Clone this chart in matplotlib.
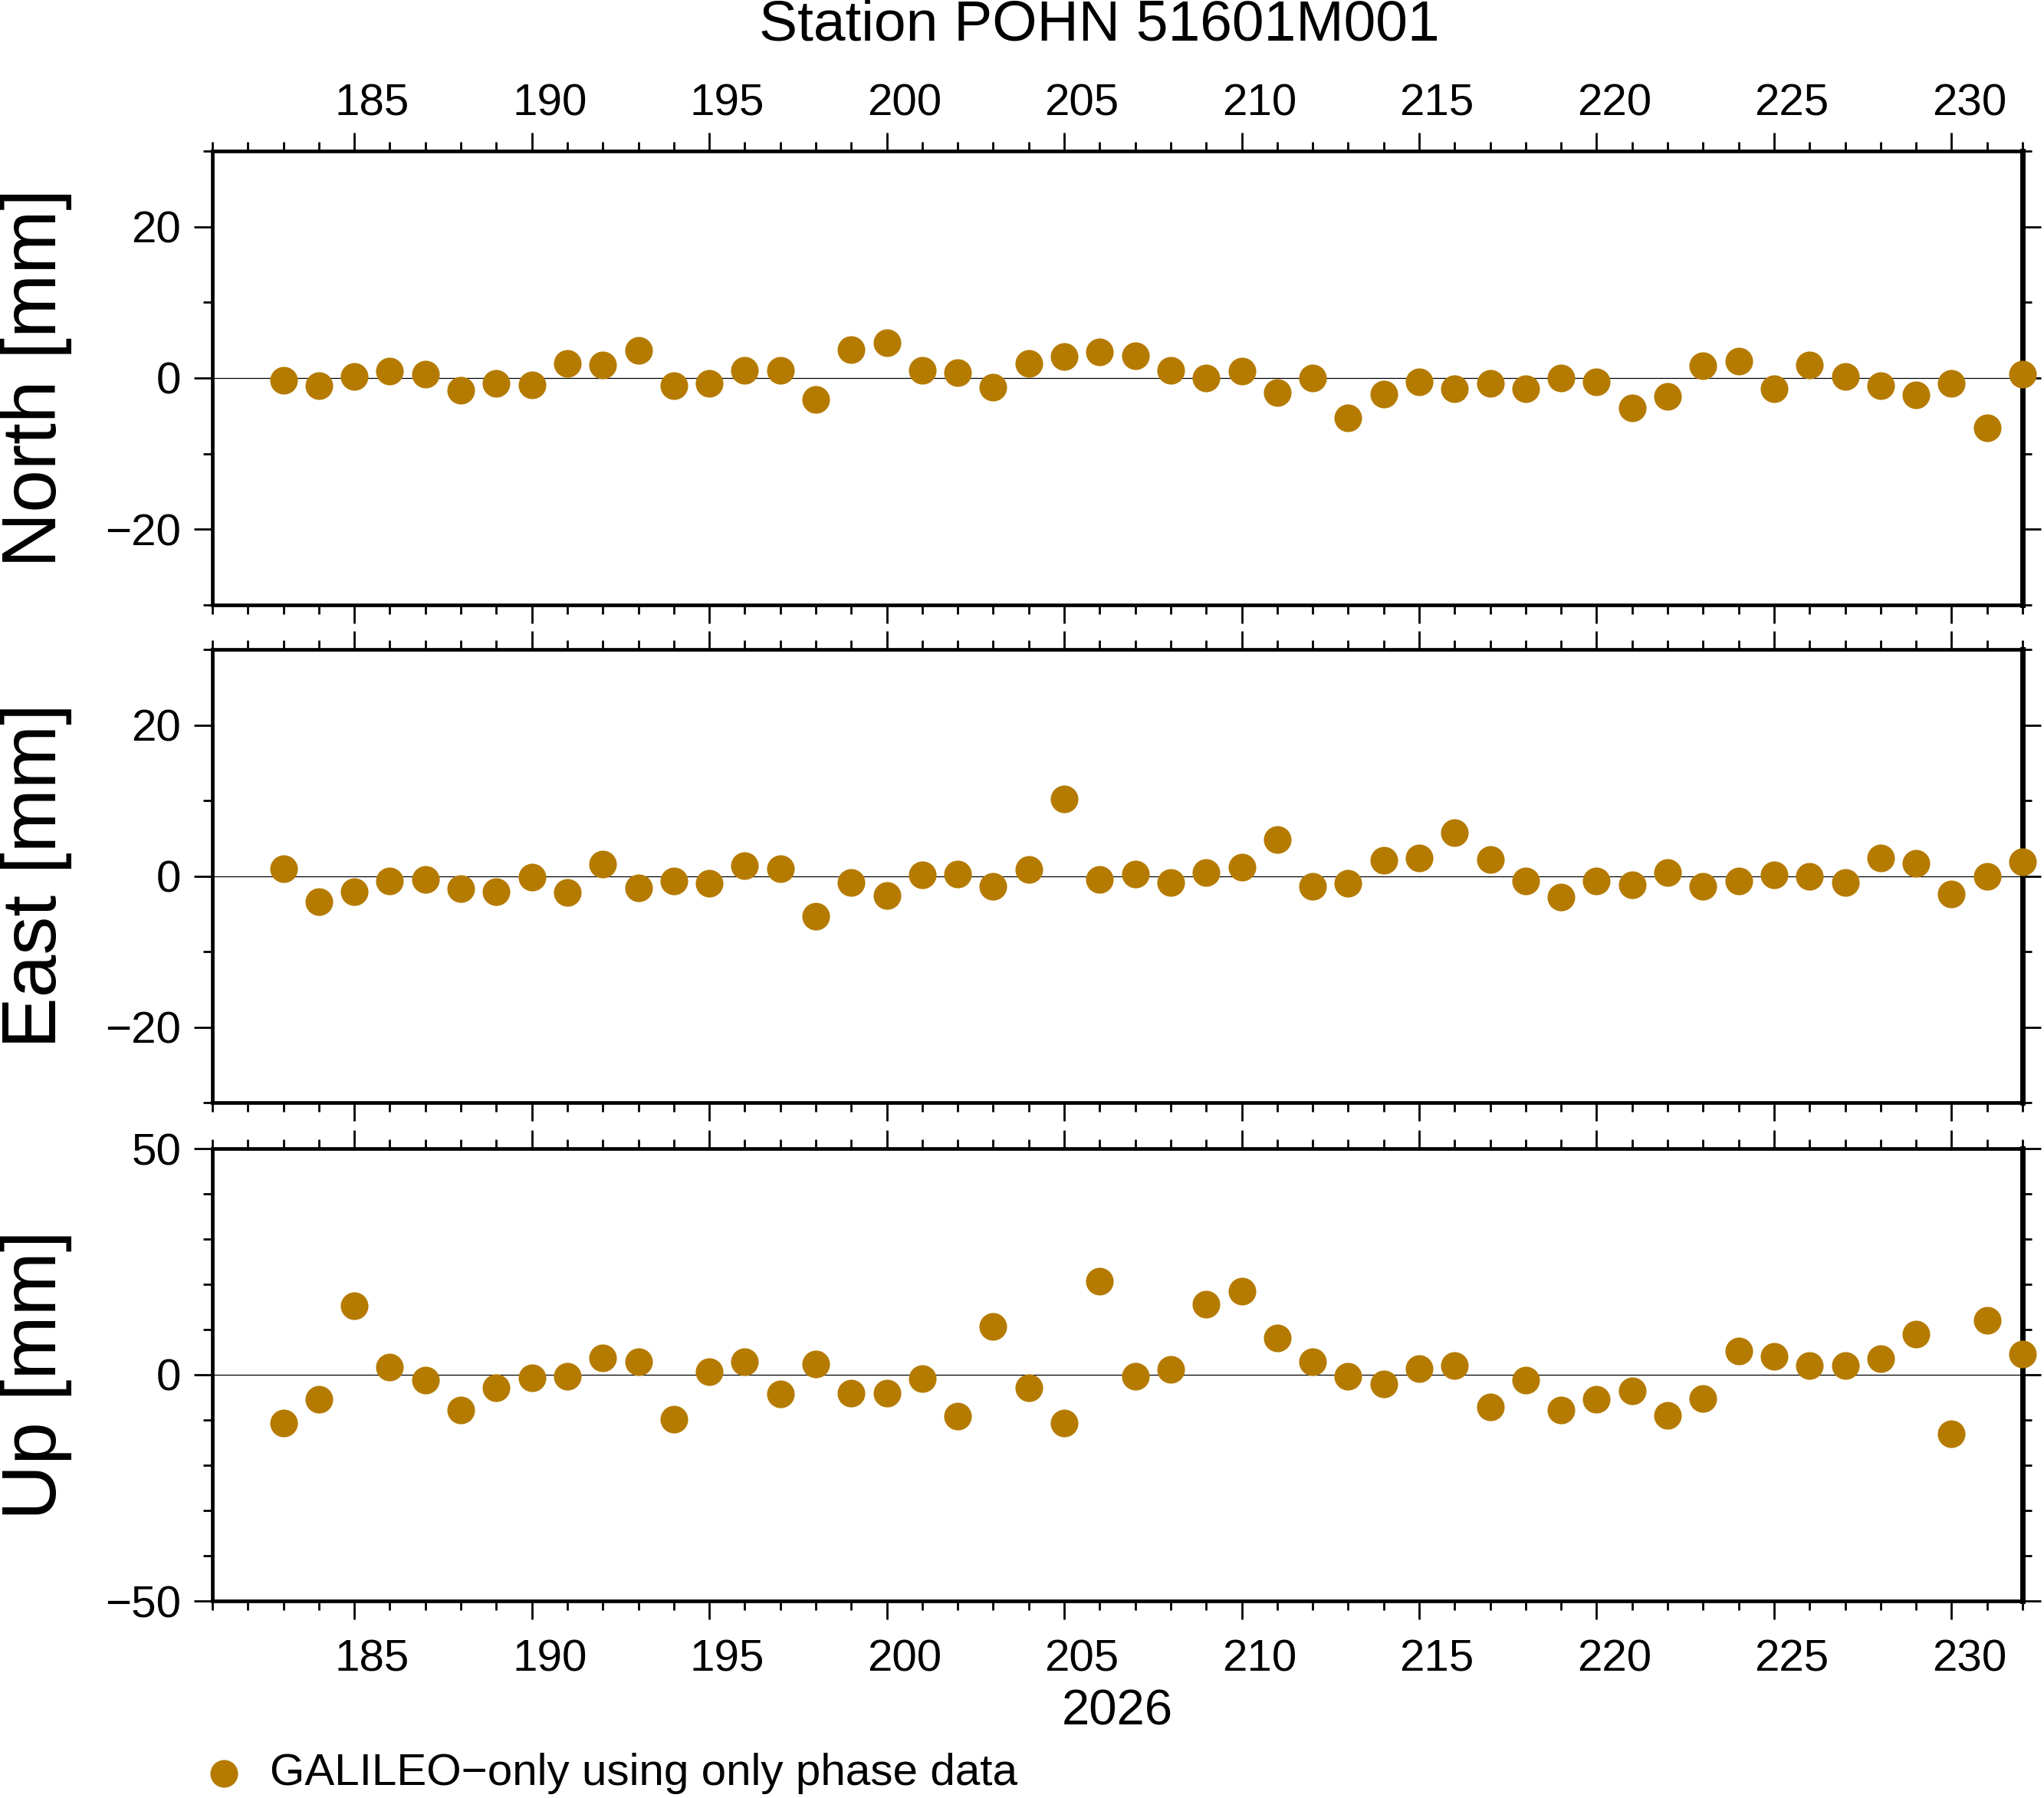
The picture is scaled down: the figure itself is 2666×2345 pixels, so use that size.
import matplotlib
matplotlib.use("Agg")
import matplotlib.pyplot as plt
from matplotlib.ticker import MultipleLocator

plt.rcParams['font.family'] = ['Liberation Sans', 'DejaVu Sans']

days = list(range(183, 233))
north = [-0.3, -1.0, 0.2, 0.9, 0.5, -1.6, -0.7, -0.9, 1.9, 1.7,
         3.6, -1.0, -0.7, 1.0, 1.0, -2.8, 3.8, 4.7, 1.0, 0.7,
         -1.2, 1.9, 2.8, 3.4, 2.9, 1.0, 0.0, 0.9, -1.9, 0.0,
         -5.3, -2.1, -0.5, -1.4, -0.7, -1.4, 0.0, -0.5, -4.0, -2.4,
         1.6, 2.2, -1.4, 1.7, 0.2, -1.0, -2.2, -0.7, -6.6, 0.5]
east = [1.0, -3.4, -2.1, -0.7, -0.5, -1.7, -2.1, -0.2, -2.2, 1.6,
        -1.6, -0.7, -1.0, 1.4, 1.0, -5.3, -0.9, -2.6, 0.2, 0.3,
        -1.4, 0.9, 10.2, -0.5, 0.3, -0.9, 0.5, 1.2, 4.8, -1.4,
        -1.0, 2.1, 2.4, 5.7, 2.2, -0.7, -2.8, -0.7, -1.2, 0.5,
        -1.4, -0.7, 0.2, 0.0, -0.9, 2.4, 1.7, -2.4, 0.0, 1.9]
up = [-10.7, -5.5, 15.3, 1.7, -1.2, -7.8, -2.9, -0.6, -0.3, 3.7,
      2.9, -9.8, 0.6, 2.9, -4.3, 2.3, -4.0, -4.0, -0.9, -9.2,
      10.7, -2.9, -10.7, 20.7, -0.3, 1.2, 15.6, 18.4, 8.1, 2.9,
      -0.3, -2.0, 1.4, 2.0, -7.2, -1.2, -7.8, -5.5, -3.5, -8.9,
      -5.2, 5.2, 4.0, 2.0, 2.0, 3.5, 8.9, -13.0, 12.1, 4.6]

title = "Station POHN 51601M001"
panel_labels = ["North [mm]", "East [mm]", "Up [mm]"]
ylims = [(-30, 30), (-30, 30), (-50, 50)]
ymajor = [20, 20, 50]
yminor = [10, 10, 10]
xtick_labels = [185, 190, 195, 200, 205, 210, 215, 220, 225, 230]
xlabel = "2026"
legend_label = "GALILEO\u2212only using only phase data"
color = "#B57B00"

W, H = 2666, 2345
fig = plt.figure(figsize=(W / 100, H / 100), dpi=100)

left = 277 / W
right = 2638 / W
panels_px = [(197, 789), (847, 1438), (1498, 2088)]

for i, (top, bot) in enumerate(panels_px):
    ax = fig.add_axes([left, 1 - bot / H, right - left, (bot - top) / H])
    vals = [north, east, up][i]
    ax.axhline(0, color='black', lw=0.9, zorder=1)
    ax.plot(days, vals, 'o', color=color, markersize=26, mec='none',
            clip_on=False, zorder=3)
    ax.set_xlim(181, 232)
    ax.set_ylim(*ylims[i])
    ax.xaxis.set_major_locator(MultipleLocator(5))
    ax.xaxis.set_minor_locator(MultipleLocator(1))
    ax.yaxis.set_major_locator(MultipleLocator(ymajor[i]))
    ax.yaxis.set_minor_locator(MultipleLocator(yminor[i]))
    ax.tick_params(which='both', direction='out', top=True, bottom=True,
                   left=True, right=True, width=2.0, labelsize=42)
    ax.tick_params(which='major', length=17.3)
    ax.tick_params(which='minor', length=8.6)
    ax.tick_params(axis='y', pad=12, labelright=False)
    ax.tick_params(axis='x', labelbottom=False, labeltop=False)
    for s in ax.spines.values():
        s.set_linewidth(3.4)
    ax.spines['right'].set_linewidth(5)
    # GMT-style interval annotations centred on each day
    if i == 0:
        for d in xtick_labels:
            ax.annotate(str(d), xy=(d + 0.5, 1), xycoords=('data', 'axes fraction'),
                        xytext=(0, 33.5), textcoords='offset points',
                        ha='center', va='baseline', fontsize=42)
    if i == 2:
        for d in xtick_labels:
            ax.annotate(str(d), xy=(d + 0.5, 0), xycoords=('data', 'axes fraction'),
                        xytext=(0, -66), textcoords='offset points',
                        ha='center', va='baseline', fontsize=42)
    center_y = 1 - (top + bot) / 2 / H
    fig.text(0.0175, center_y, panel_labels[i], rotation=90, fontsize=72,
             ha='center', va='center')

fig.text(0.538, 0.986, title, fontsize=54, ha='center', va='center')
fig.text((left + right) / 2, 0.048, xlabel, fontsize=47, ha='center', va='center')

# legend
fig.lines.append(matplotlib.lines.Line2D([0.1097], [0.0135], marker='o',
                 color=color, markersize=26, mec='none', linestyle='none',
                 transform=fig.transFigure))
fig.text(0.132, 0.0135, legend_label, fontsize=42, ha='left', va='center')

fig.savefig("out.png", dpi=100)
